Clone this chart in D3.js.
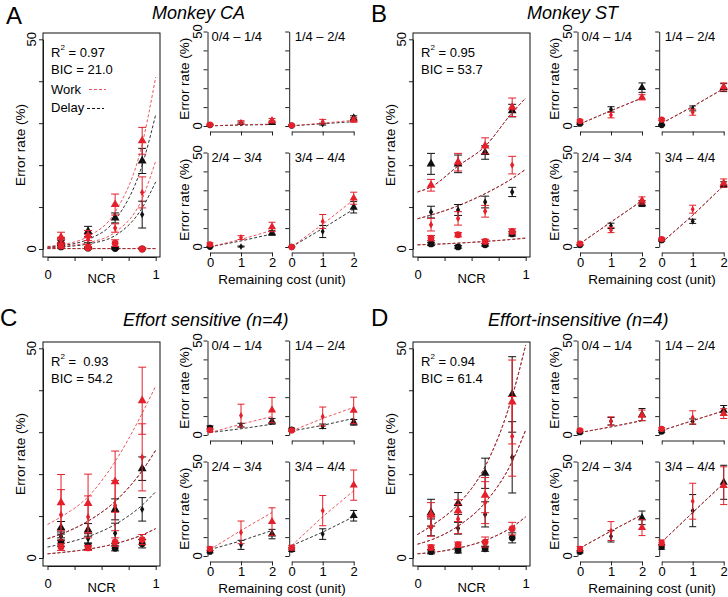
<!DOCTYPE html>
<html><head><meta charset="utf-8">
<script src="https://cdn.jsdelivr.net/npm/d3@7"></script>
<style>
body{margin:0;background:#fff}
svg{display:block}
</style></head><body>
<svg id="chart" width="728" height="597"></svg>
<script>
// ---------- categories / labels ----------
const ncrBins = [0.125, 0.375, 0.625, 0.875];
const costLevels = [0, 1, 2];
const binLabels = ["0/4 \u2013 1/4", "1/4 \u2013 2/4", "2/4 \u2013 3/4", "3/4 \u2013 4/4"];
const fitX = [0, 0.125, 0.375, 0.625, 0.875, 1];
const panelLetters = ["A", "B", "C", "D"];
const panelTitles = ["Monkey CA", "Monkey ST", "Effort sensitive (n=4)", "Effort-insensitive (n=4)"];
const r2Values = ["0.97", "0.95", " 0.93", "0.94"];
const bicValues = ["21.0", "53.7", "54.2", "61.4"];
const yTicks = [0, 10, 20, 30, 40, 50];
const yTickLabels = [0, 50];
const ncrTicks = [0, 0.25, 0.5, 0.75, 1];
const ncrTickLabels = [0, 1];

// ---------- data: rows = remaining cost 0,1,2 ; columns = NCR bins ----------
// Panel A (Monkey CA)
const workMeanA  = [[0.7, 0.3, 1.4, 0.0], [2.0, 2.3, 5.0, 13.5], [2.8, 3.2, 10.6, 25.8]];
const workSeA    = [[0.5, 0.3, 0.8, 0.3], [0.8, 1.2, 1.0, 3.7], [1.2, 1.2, 2.5, 3.2]];
const delayMeanA = [[0.5, 0.2, 0.1, 0.0], [1.5, 1.0, 0.2, 8.2], [1.8, 4.2, 7.4, 21.0]];
const delaySeA   = [[0.3, 0.2, 0.2, 0.2], [0.6, 0.5, 0.3, 3.2], [0.8, 1.2, 1.2, 3.0]];
const workFitA   = [[0.1, 0.1, 0.1, 0.1, 0.1, 0.1], [0.3, 0.6, 1.5, 4.0, 12.0, 21.0], [0.6, 1.0, 3.0, 8.8, 25.0, 41.0]];
const delayFitA  = [[0.1, 0.1, 0.1, 0.1, 0.1, 0.1], [0.3, 0.5, 1.2, 3.2, 9.8, 16.0], [0.5, 0.8, 2.3, 6.9, 20.0, 32.0]];
// Panel B (Monkey ST)
const workMeanB  = [[2.6, 3.4, 1.8, 4.2], [5.8, 7.3, 9.0, 20.0], [15.2, 20.7, 24.6, 33.8]];
const workSeB    = [[0.6, 0.5, 0.5, 0.6], [1.5, 1.6, 1.4, 2.1], [1.4, 2.1, 1.9, 2.2]];
const delayMeanB = [[1.2, 0.5, 1.0, 3.6], [8.8, 9.3, 11.2, 13.6], [20.3, 20.3, 23.0, 33.0]];
const delaySeB   = [[0.4, 0.3, 0.3, 0.5], [1.4, 1.3, 1.4, 1.1], [2.5, 2.1, 1.6, 1.5]];
const workFitB   = [[1.0, 1.1, 1.4, 1.8, 2.3, 2.6], [7.2, 8.1, 10.3, 13.2, 16.8, 19.0], [13.6, 14.8, 19.8, 24.5, 32.5, 36.0]];
const delayFitB  = [[1.0, 1.1, 1.4, 1.8, 2.3, 2.6], [7.2, 8.1, 10.3, 13.2, 16.8, 19.0], [13.6, 14.8, 19.8, 24.5, 32.5, 36.0]];
// Panel C (Effort sensitive)
const workMeanC  = [[2.6, 2.4, 3.8, 4.4], [10.3, 9.8, 12.5, 24.0], [13.2, 13.0, 18.2, 37.5]];
const workSeC    = [[0.8, 0.6, 1.0, 1.2], [6.0, 5.0, 6.0, 8.0], [6.7, 7.0, 7.3, 8.0]];
const delayMeanC = [[3.8, 2.8, 2.3, 3.4], [5.2, 4.6, 5.9, 11.6], [7.2, 6.7, 11.6, 21.3]];
const delaySeC   = [[1.0, 0.8, 0.6, 1.0], [1.0, 1.2, 2.4, 2.8], [1.5, 1.5, 2.5, 2.8]];
const workFitC   = [[1.0, 1.3, 2.1, 3.4, 5.5, 7.0], [4.6, 5.7, 8.8, 13.5, 20.8, 25.7], [8.0, 9.8, 14.6, 23.0, 34.5, 41.0]];
const delayFitC  = [[1.0, 1.3, 2.1, 3.4, 5.5, 7.0], [2.6, 3.3, 5.1, 8.0, 12.6, 15.8], [4.6, 5.7, 8.8, 13.5, 20.8, 25.7]];
// Panel D (Effort-insensitive)
const workMeanD  = [[2.5, 3.2, 3.8, 7.0], [7.4, 9.3, 13.2, 29.0], [10.4, 11.3, 15.0, 37.2]];
const workSeD    = [[0.6, 0.6, 1.2, 1.5], [2.2, 3.5, 5.0, 9.5], [2.8, 2.6, 4.2, 10.0]];
const delayMeanD = [[1.5, 1.8, 2.2, 4.8], [7.3, 7.1, 10.4, 24.0], [10.8, 13.0, 20.2, 39.0]];
const delaySeD   = [[0.5, 0.6, 0.6, 1.2], [2.0, 1.4, 3.0, 8.5], [3.2, 2.6, 3.6, 9.0]];
const workFitD   = [[1.0, 1.3, 2.35, 4.2, 7.4, 9.8], [3.3, 4.3, 7.6, 13.2, 23.0, 30.5], [5.6, 7.6, 12.8, 21.8, 38.5, 50.8]];
const delayFitD  = [[1.0, 1.3, 2.35, 4.2, 7.4, 9.8], [3.3, 4.3, 7.6, 13.2, 23.0, 30.5], [5.6, 7.6, 12.8, 21.8, 38.5, 50.8]];

// ---------- style / layout ----------
const FONT = "'Liberation Sans', Arial, Helvetica, sans-serif";
const RED = "#e3202b", BLACK = "#111";
const panelOffsets = [[0, 0], [370, 0], [0, 309], [370, 309]];
const letterPos = [[6, 24], [371, 22], [0, 326], [371, 326]];
const titlePos = [[152, 19], [527, 19], [123, 326], [488, 326]];

const panels = [
  {work: workMeanA, workSe: workSeA, delay: delayMeanA, delaySe: delaySeA, workFit: workFitA, delayFit: delayFitA, legend: true},
  {work: workMeanB, workSe: workSeB, delay: delayMeanB, delaySe: delaySeB, workFit: workFitB, delayFit: delayFitB, legend: false},
  {work: workMeanC, workSe: workSeC, delay: delayMeanC, delaySe: delaySeC, workFit: workFitC, delayFit: delayFitC, legend: false},
  {work: workMeanD, workSe: workSeD, delay: delayMeanD, delaySe: delaySeD, workFit: workFitD, delayFit: delayFitD, legend: false}
];

const svg = d3.select("#chart").attr("font-family", FONT);

function styleAxis(sel) {
  sel.attr("font-family", FONT).attr("font-size", 13);
  sel.selectAll("line").attr("stroke", "#222");
  sel.selectAll("path.domain").attr("stroke", "#222");
  sel.selectAll("text").attr("fill", "#000");
}

function drawMarker(g, cost, cx, cy, color, scale) {
  if (cost === 2) {
    g.append("path").attr("d", d3.symbol(d3.symbolTriangle, 34 * scale)()).attr("transform", `translate(${cx},${cy})`).attr("fill", color);
  } else if (cost === 1) {
    g.append("path").attr("d", d3.symbol(d3.symbolDiamond, 16 * scale)()).attr("transform", `translate(${cx},${cy})`).attr("fill", color);
  } else {
    g.append("circle").attr("cx", cx).attr("cy", cy).attr("r", 3.4 * Math.sqrt(scale)).attr("fill", color);
  }
}

function drawErr(g, cx, y, m, se, color, cap) {
  const y1 = y(Math.max(0, m - se)), y2 = y(m + se);
  g.append("line").attr("x1", cx).attr("x2", cx).attr("y1", y1).attr("y2", y2).attr("stroke", color).attr("stroke-width", 1);
  [y1, y2].forEach(yy => g.append("line").attr("x1", cx - cap).attr("x2", cx + cap).attr("y1", yy).attr("y2", yy).attr("stroke", color).attr("stroke-width", 1));
}

function bigPlot(g, p, idx) {
  const x = d3.scaleLinear([0, 1], [47.5, 155.7]);
  const y = d3.scaleLinear([0, 50], [249, 39.3]);
  const bx0 = 43, bx1 = 160, by0 = 33, by1 = 257;
  const cid = "clipBig" + idx;
  g.append("clipPath").attr("id", cid).append("rect").attr("x", bx0).attr("y", by0).attr("width", bx1 - bx0).attr("height", by1 - by0);

  const ya = g.append("g").attr("transform", `translate(${bx0},0)`)
    .call(d3.axisLeft(y).tickValues(yTicks).tickSize(4).tickSizeOuter(0).tickFormat(""));
  styleAxis(ya);
  const xa = g.append("g").attr("transform", `translate(0,${by1})`)
    .call(d3.axisBottom(x).tickValues(ncrTicks).tickSize(4).tickSizeOuter(0).tickPadding(9)
      .tickFormat(d => ncrTickLabels.includes(d) ? String(d) : ""));
  styleAxis(xa);

  g.append("rect").attr("x", bx0).attr("y", by0).attr("width", bx1 - bx0).attr("height", by1 - by0)
    .attr("fill", "none").attr("stroke", "#111").attr("stroke-width", 1);

  yTickLabels.forEach(v => g.append("text").attr("transform", `translate(35.5,${y(v)}) rotate(-90)`)
    .attr("text-anchor", "middle").attr("font-size", 13).text(v));
  g.append("text").attr("transform", `translate(25,145) rotate(-90)`).attr("text-anchor", "middle")
    .attr("font-size", 13.5).text("Error rate (%)");
  g.append("text").attr("x", x(0.5)).attr("y", 283).attr("text-anchor", "middle").attr("font-size", 13).text("NCR");

  // fitted curves
  const line = d3.line().x((d, i) => x(fitX[i])).y(d => y(d)).curve(d3.curveMonotoneX);
  const cg = g.append("g").attr("clip-path", `url(#${cid})`);
  [[p.delayFit, BLACK, 0.85], [p.workFit, RED, 0.75]].forEach(([fits, col, op]) => {
    fits.forEach(arr => cg.append("path").attr("d", line(arr)).attr("fill", "none").attr("stroke", col)
      .attr("stroke-opacity", op).attr("stroke-width", 1).attr("stroke-dasharray", "3,2"));
  });

  // points
  [[p.delay, p.delaySe, BLACK], [p.work, p.workSe, RED]].forEach(([means, ses, col]) => {
    costLevels.forEach(c => {
      ncrBins.forEach((nb, b) => {
        drawErr(g, x(nb), y, means[c][b], ses[c][b], col, 4);
        drawMarker(g, c, x(nb), y(means[c][b]), col, 1);
      });
    });
  });

  // annotations
  const r2 = g.append("text").attr("x", 51).attr("y", 57).attr("font-size", 13);
  r2.append("tspan").text("R");
  r2.append("tspan").attr("font-size", 8).attr("dy", -7).text("2");
  r2.append("tspan").attr("dy", 7).attr("xml:space", "preserve").text(" = " + r2Values[idx]);
  g.append("text").attr("x", 51).attr("y", 74).attr("font-size", 13).text("BIC = " + bicValues[idx]);
  if (p.legend) {
    g.append("text").attr("x", 51).attr("y", 94).attr("font-size", 13).text("Work");
    g.append("line").attr("x1", 89).attr("x2", 106).attr("y1", 89.5).attr("y2", 89.5)
      .attr("stroke", RED).attr("stroke-opacity", 0.75).attr("stroke-dasharray", "3,2");
    g.append("text").attr("x", 51).attr("y", 112).attr("font-size", 13).text("Delay");
    g.append("line").attr("x1", 87).attr("x2", 104).attr("y1", 108.5).attr("y2", 108.5)
      .attr("stroke", BLACK).attr("stroke-dasharray", "3,2");
  }
}

function smallPlot(g, p, i) {
  const col = i % 2, row = Math.floor(i / 2);
  const x0 = col ? 291.7 : 210;
  const xs = d3.scaleLinear([0, 2], [x0, x0 + 62]);
  const yb = row ? 247 : 126;
  const ys = d3.scaleLinear([0, 50], [yb, yb - 94.5]);

  const ya = g.append("g").attr("transform", `translate(${x0 - 2.5},0)`)
    .call(d3.axisLeft(ys).tickValues(yTicks).tickSize(4).tickSizeOuter(0).tickFormat(""));
  styleAxis(ya);
  const xa = g.append("g").attr("transform", `translate(0,${yb + 5.5})`)
    .call(d3.axisBottom(xs).tickValues(costLevels).tickSize(4).tickSizeOuter(0).tickPadding(1)
      .tickFormat(d => row ? String(d) : ""));
  styleAxis(xa);

  if (col === 0) {
    yTickLabels.forEach(v => g.append("text").attr("transform", `translate(202,${ys(v)}) rotate(-90)`)
      .attr("text-anchor", "middle").attr("font-size", 13).text(v));
    g.append("text").attr("transform", `translate(188.5,${(ys(0) + ys(50)) / 2}) rotate(-90)`)
      .attr("text-anchor", "middle").attr("font-size", 13.5).text("Error rate (%)");
  }
  g.append("text").attr("x", x0 + (col ? 3 : 1.5)).attr("y", ys(50) + 9.5).attr("font-size", 13).text(binLabels[i]);

  const line = d3.line().x((d, c) => xs(costLevels[c])).y(d => ys(d));
  [[p.delayFit, BLACK, 0.85], [p.workFit, RED, 0.75]].forEach(([fits, colr, op]) => {
    const vals = costLevels.map(c => fits[c][i + 1]);
    g.append("path").attr("d", line(vals)).attr("fill", "none").attr("stroke", colr)
      .attr("stroke-opacity", op).attr("stroke-width", 1).attr("stroke-dasharray", "3,2");
  });

  [[p.delay, p.delaySe, BLACK], [p.work, p.workSe, RED]].forEach(([means, ses, colr]) => {
    costLevels.forEach(c => {
      drawErr(g, xs(c), ys, means[c][i], ses[c][i], colr, 3.5);
      drawMarker(g, c, xs(c), ys(means[c][i]), colr, 0.85);
    });
  });
}

panels.forEach((p, idx) => {
  svg.append("text").attr("x", letterPos[idx][0]).attr("y", letterPos[idx][1]).attr("font-size", 24).text(panelLetters[idx]);
  svg.append("text").attr("x", titlePos[idx][0]).attr("y", titlePos[idx][1]).attr("font-size", 18)
    .attr("font-style", "italic").text(panelTitles[idx]);
  const g = svg.append("g").attr("transform", `translate(${panelOffsets[idx][0]},${panelOffsets[idx][1]})`);
  bigPlot(g, p, idx);
  [0, 1, 2, 3].forEach(i => smallPlot(g, p, i));
  g.append("text").attr("x", 282).attr("y", 284).attr("text-anchor", "middle").attr("font-size", 13.5).text("Remaining cost (unit)");
});
</script>
</body></html>
